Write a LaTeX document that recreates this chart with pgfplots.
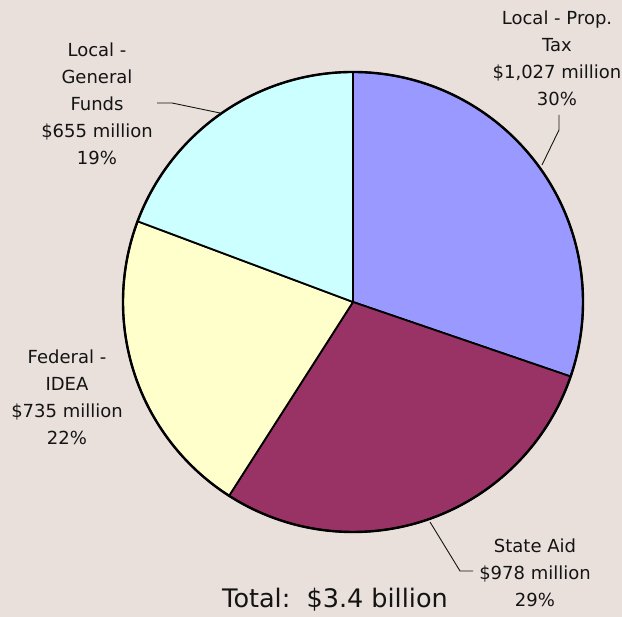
\documentclass[border=0pt]{standalone}
\usepackage{pgfplots}
\pgfplotsset{compat=1.18}
\usepackage{pgfplotstable}
\usepackage{fontspec}
\setmainfont{DejaVu Sans}
\definecolor{bg}{RGB}{233,224,219}
\definecolor{cA}{RGB}{153,153,255}
\definecolor{cB}{RGB}{153,51,102}
\definecolor{cC}{RGB}{255,255,204}
\definecolor{cD}{RGB}{204,255,255}
\definecolor{txt}{RGB}{20,20,20}
\pgfplotstableread{
label value
PropTax 1027
StateAid 978
Federal 735
General 655
}\piedata
\begin{document}
\begin{tikzpicture}
\pgfplotstablegetelem{0}{value}\of\piedata \let\vA\pgfplotsretval
\pgfplotstablegetelem{1}{value}\of\piedata \let\vB\pgfplotsretval
\pgfplotstablegetelem{2}{value}\of\piedata \let\vC\pgfplotsretval
\pgfplotstablegetelem{3}{value}\of\piedata \let\vD\pgfplotsretval
\pgfmathsetmacro{\tot}{\vA+\vB+\vC+\vD}
\pgfmathsetmacro{\aA}{90}
\pgfmathsetmacro{\aB}{\aA-360*(\vA/\tot)}
\pgfmathsetmacro{\aC}{\aB-360*(\vB/\tot)}
\pgfmathsetmacro{\aD}{\aC-360*(\vC/\tot)}
\pgfmathsetmacro{\aE}{\aD-360*(\vD/\tot)}
\begin{axis}[hide axis, x=1pt, y=1pt, xmin=0, xmax=622, ymin=0, ymax=617, clip=false]
\fill[bg] (axis cs:0,0) rectangle (axis cs:622,617);
\filldraw[fill=cA, draw=black, line width=1.8pt, line join=round] (axis cs:353,315) -- ++(\aA:230pt) arc[start angle=\aA, end angle=\aB, radius=230pt] -- cycle;
\filldraw[fill=cB, draw=black, line width=1.8pt, line join=round] (axis cs:353,315) -- ++(\aB:230pt) arc[start angle=\aB, end angle=\aC, radius=230pt] -- cycle;
\filldraw[fill=cC, draw=black, line width=1.8pt, line join=round] (axis cs:353,315) -- ++(\aC:230pt) arc[start angle=\aC, end angle=\aD, radius=230pt] -- cycle;
\filldraw[fill=cD, draw=black, line width=1.8pt, line join=round] (axis cs:353,315) -- ++(\aD:230pt) arc[start angle=\aD, end angle=\aE, radius=230pt] -- cycle;
\draw[black, line width=2.4pt] (axis cs:353,315) circle[radius=230pt];
% leader lines
\draw[txt, line width=0.9pt] (axis cs:559,502) -- (axis cs:559,487) -- (axis cs:542,452);
\draw[txt, line width=0.9pt] (axis cs:157,514) -- (axis cs:172,514) -- (axis cs:220,504);
\draw[txt, line width=0.9pt] (axis cs:430,95) -- (axis cs:460,46) -- (axis cs:473,46);
% labels
\tikzset{lab/.style={align=center, text=txt, font=\fontsize{18}{27}\selectfont, inner sep=0pt}}
\node[lab] at (axis cs:557,559) {Local - Prop.\\Tax\\\$1,027 million\\30\%};
\node[lab] at (axis cs:97,513.5) {Local -\\General\\Funds\\\$655 million\\19\%};
\node[lab] at (axis cs:67,219.5) {Federal -\\IDEA\\\$735 million\\22\%};
\node[lab] at (axis cs:535,44.5) {State Aid\\\$978 million\\29\%};
\node[text=txt, font=\fontsize{25.5}{30}\selectfont, inner sep=0pt] at (axis cs:335,17) {Total:\ \ \$3.4 billion};
\end{axis}
\end{tikzpicture}
\end{document}
